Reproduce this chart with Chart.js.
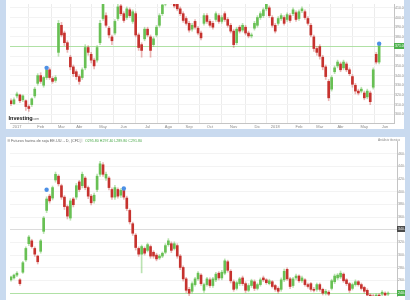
<!DOCTYPE html>
<html>
<head>
<meta charset="utf-8">
<script src="https://cdn.jsdelivr.net/npm/chart.js@4.4.0/dist/chart.umd.min.js"></script>
<style>
  html, body { margin: 0; padding: 0; }
  body { width: 410px; height: 300px; overflow: hidden; background: #c9daef; position: relative; }
  .panel { position: absolute; background: #fff; }
  #topPanel { left: 6px; top: 0; width: 398px; height: 129px; }
  #bottomPanel { left: 6px; top: 137px; width: 399px; height: 163px; }
  canvas { display: block; }
</style>
</head>
<body>
<div class="panel" id="topPanel"><canvas id="top" width="398" height="129"></canvas></div>
<div class="panel" id="bottomPanel"><canvas id="bottom" width="399" height="163"></canvas></div>
<script>
// ---- upper chart (weekly-ish view) ----
const topOpen  = [314,311,319,320,315,314,308,310,319,332,340,330,338,346,337,335,364,392,384,374,359,349,344,339,338,348,369,362,356,356,374,399,402,389,380,384,399,412,404,400,408,396,404,382,372,378,388,380,372,382,392,404,414,417,420,416,414,409,404,399,394,388,396,389,384,394,402,396,394,398,402,396,404,398,392,386,374,390,387,390,384,381,389,392,400,402,409,410,400,392,394,399,400,398,402,404,405,399,407,406,399,392,380,368,370,359,349,334,326,344,350,352,348,352,346,339,330,324,324,322,318,322,328,362,354];
const topClose = [311,315,321,314,319,308,306,316,326,340,334,338,346,338,334,338,394,382,374,367,349,342,339,334,346,369,364,356,350,369,394,414,392,382,376,396,411,404,397,409,402,406,382,369,366,388,382,366,378,390,402,413,419,422,416,412,409,404,397,394,387,392,390,384,379,402,396,392,390,404,396,400,398,392,386,372,388,386,392,384,381,382,394,400,404,408,414,402,392,386,399,402,394,403,397,408,398,406,409,400,394,382,368,364,360,349,339,317,338,348,354,346,354,346,342,331,324,322,326,317,324,313,346,354,371];
const topHigh  = [316,317,323,321,320,315,310,317,328,342,343,339,349,348,339,340,397,395,386,376,361,351,346,341,348,372,371,364,358,371,397,418,405,391,382,398,414,415,406,411,410,408,406,384,374,390,390,382,380,392,404,416,422,425,423,418,416,411,406,401,396,394,398,391,386,404,404,398,396,406,404,402,406,400,394,388,390,392,394,392,386,384,396,402,406,410,417,412,402,394,401,404,402,405,404,410,407,408,411,408,401,394,382,370,372,361,351,336,340,350,356,354,356,354,348,341,332,326,328,324,326,324,348,364,374];
const topLow   = [309,310,317,312,313,304,303,308,317,330,332,328,336,336,332,333,360,380,371,364,346,339,336,331,336,346,361,353,347,354,372,397,390,379,372,382,397,402,395,398,400,394,380,366,359,376,380,359,370,380,390,402,412,415,414,410,407,402,395,392,385,386,388,382,377,392,394,390,388,396,394,394,396,390,384,369,372,384,385,382,379,379,387,390,398,400,407,400,390,384,392,397,392,396,395,402,396,397,405,398,392,380,365,361,357,346,336,314,324,342,348,344,346,344,340,328,321,320,322,315,316,310,326,352,352];
const topMonthPos    = [2,10,17,23,31,38,46,53,60,67,75,83,89,97,104,111,119,126];
const topMonthLabels = ['2017','Feb','Mar','Abr','May','Jun','Jul','Ago','Sep','Oct','Nov','Dic','2018','Feb','Mar','Abr','May','Jun'];
const topPriceTicks  = [300,310,320,330,340,350,360,370,380,390,400,410];
const topEventIdx    = [12,124];
const topEventPrice  = [348,373];

// ---- lower chart ----
const botOpen  = [261,264,268.5,261,273,292.5,318,322.5,310.5,298.5,306,337.5,370.5,393,390,418.5,424.5,409.5,391.5,376.5,358.5,388.5,391.5,415.5,409.5,421.5,406.5,393,385.5,403.5,427.5,442.5,421.5,421.5,403.5,391.5,403.5,394.5,402,390,370.5,349.5,331.5,310.5,301.5,310.5,307.5,313.5,304.5,300,295.5,298.5,304.5,316.5,318,310.5,315,298.5,280.5,262.5,246,243,253.5,262.5,268.5,244.5,253.5,261,252,261,271.5,264,271.5,289.5,274.5,258,247.5,255,264,255,244.5,252,258,247.5,253.5,264,261,255,258,252,247.5,246,261,277.5,262.5,252,264,267,259.5,261,253.5,255,246,246,253.5,246,240,241.5,247.5,258,264,265.5,270,261,255,247.5,253.5,258,253.5,249,244.5,237,235.5,232.5,237,238.5,240,238.5];
const botClose = [265.5,268.5,271.5,255,288,310.5,328.5,313.5,301.5,289.5,322.5,358.5,388.5,385.5,406.5,427.5,412.5,391.5,376.5,361.5,385.5,379.5,409.5,403.5,427.5,406.5,393,382.5,394.5,424.5,444,427.5,427.5,406.5,391.5,406.5,393,402,391.5,373.5,352.5,334.5,312,301.5,313.5,303,316.5,298.5,298.5,294,298.5,303,315,322.5,307.5,318,298.5,280.5,262.5,244.5,240,255,262.5,271.5,255,253.5,262.5,252,262.5,270,264,273,291,276,259.5,246,256.5,262.5,255,244.5,252,259.5,247.5,253.5,261,261,256.5,259.5,250.5,246,243,261,274.5,262.5,250.5,262.5,267,259.5,264,253.5,250.5,246,244.5,253.5,246,240,243,238.5,259.5,267,268.5,271.5,259.5,255,244.5,253.5,258,253.5,247.5,243,237,232.5,231,237,234,241.5,237,240];
const botHigh  = [267,270,274,263,290,313,331,325,313,300,325,361,392,396,409,431,427,412,394,379,389,391,413,418,431,424,409,396,398,428,448,446,431,424,406,410,406,405,405,393,373,352,334,313,316,313,319,316,307,303,301,305,318,326,321,321,318,301,283,265,249,258,265,274,271,256,265,264,265,273,274,276,294,292,277,261,259,265,267,258,255,262,261,256,264,267,263,262,260,254,250,264,278,280,265,265,270,269,267,263,256,257,249,256,256,248,246,244,262,270,271,275,272,263,257,256,261,260,256,251,247,239,238,239,239,244,242,242];
const botLow   = [259,262,266,252,271,290,315,311,298,286,303,334,367,382,387,415,409,388,372,357,355,376,388,400,406,403,389,379,382,400,424,424,418,403,388,388,390,391,388,370,349,331,308,298,272,300,305,295,295,291,293,296,302,314,304,308,295,277,259,241,236,240,251,260,252,241,251,249,249,258,261,261,269,273,256,243,245,252,252,241,242,249,244,245,251,258,254,253,248,243,240,243,258,260,247,249,261,257,257,251,248,243,242,243,243,237,237,236,245,255,261,263,257,252,241,245,251,251,245,240,234,230,229,230,232,236,235,236];
const botPriceTicks = [240,250,260,270,280,290,300,310,320,330,340,350,360,370,380,390,400,410,420,430,440,450,460,470];
const botGridPos    = [8,23,38,53,69,84,99,114];
const botEventIdx   = [12,38];
const botEventPrice = [403,405];
const crosshairPrice = 340.5;

const UP = 'rgb(104,192,84)', DOWN = 'rgb(198,50,46)';
const UP_WICK = 'rgba(104,192,84,0.45)', DOWN_WICK = 'rgba(198,50,46,0.35)';
const FONT = "'Liberation Sans', Arial, sans-serif";

// horizontal price lines + right-edge price boxes
const priceTags = {
  id: 'priceTags',
  beforeDatasetsDraw(chart, args, opts) {
    const {ctx, chartArea: a, scales: {y}} = chart;
    (opts.tags || []).forEach(t => {
      if (!t.line) return;
      const py = Math.round(y.getPixelForValue(t.value)) + 0.5;
      ctx.save();
      ctx.strokeStyle = t.line; ctx.lineWidth = 1;
      ctx.beginPath(); ctx.moveTo(a.left, py); ctx.lineTo(a.right, py); ctx.stroke();
      ctx.restore();
    });
  },
  afterDraw(chart, args, opts) {
    const {ctx, chartArea: a, scales: {y}} = chart;
    (opts.tags || []).forEach(t => {
      const py = Math.round(y.getPixelForValue(t.value));
      ctx.save();
      ctx.fillStyle = t.bg;
      ctx.fillRect(a.right, py - 3, chart.width - a.right, 6);
      ctx.fillStyle = '#fff'; ctx.font = '3.5px ' + FONT; ctx.textBaseline = 'middle';
      ctx.fillText(t.value.toFixed(2), a.right + 1, py);
      ctx.restore();
    });
    (opts.texts || []).forEach(t => {
      ctx.save();
      ctx.fillStyle = t.color; ctx.font = t.font; ctx.textBaseline = 'middle';
      if (t.box) { ctx.fillRect(t.x, t.y - t.box / 2, t.box, t.box); }
      else ctx.fillText(t.text, t.x, t.y);
      ctx.restore();
    });
  }
};

function candleChart(id, o, h, l, c, cfg) {
  const idx = c.map((_, i) => i);
  const up = c.map((v, i) => v >= o[i]);
  return new Chart(document.getElementById(id), {
    type: 'bar',
    data: {
      datasets: [
        { label: 'cuerpo', data: idx.map(i => ({x: i, y: [o[i], c[i]]})),
          backgroundColor: up.map(u => u ? UP : DOWN), barThickness: 2, grouped: false, minBarLength: 1, order: 1 },
        { label: 'mecha', data: idx.map(i => ({x: i, y: [l[i], h[i]]})),
          backgroundColor: up.map(u => u ? UP_WICK : DOWN_WICK), barThickness: 1, grouped: false, order: 2 },
        { type: 'line', label: 'eventos', data: cfg.eventIdx.map((v, i) => ({x: v, y: cfg.eventPrice[i]})),
          showLine: false, pointRadius: 2.2, pointBackgroundColor: '#4d90e6', pointBorderWidth: 0, order: 0 }
      ]
    },
    options: {
      responsive: false,
      animation: false,
      layout: { padding: 0 },
      plugins: { legend: { display: false }, tooltip: { enabled: false }, priceTags: { tags: cfg.tags, texts: cfg.texts } },
      scales: {
        x: {
          type: 'linear', min: -1 / 3, max: cfg.xMax, offset: false,
          afterBuildTicks: s => { s.ticks = cfg.xTicks.map(v => ({value: v})); },
          afterFit: s => { s.height = cfg.xHeight; },
          ticks: { display: cfg.xLabels.length > 0, autoSkip: false, maxRotation: 0, padding: 1,
                   font: { size: 4, family: FONT }, color: '#8a8a8a', callback: (v, i) => cfg.xLabels[i] },
          grid: { color: '#ececec', drawTicks: false },
          border: { display: cfg.xLabels.length > 0, color: '#c4c4c4' }
        },
        y: {
          position: 'right', min: cfg.yMin, max: cfg.yMax,
          afterBuildTicks: s => { s.ticks = cfg.yTicks.map(v => ({value: v})); },
          afterFit: s => { s.width = cfg.yWidth; },
          ticks: { padding: 1, font: { size: 3.5, family: FONT }, color: '#8a8a8a', callback: v => v.toFixed(2) },
          grid: { color: '#f3f3f3', drawTicks: false },
          border: { display: true, color: '#c4c4c4' }
        }
      }
    },
    plugins: [priceTags]
  });
}

candleChart('top', topOpen, topHigh, topLow, topClose, {
  xMax: 129, xTicks: topMonthPos, xLabels: topMonthLabels, xHeight: 6,
  yMin: 291, yMax: 414, yTicks: topPriceTicks, yWidth: 10,
  eventIdx: topEventIdx, eventPrice: topEventPrice,
  tags: [{ value: topClose[topClose.length - 1], line: 'rgba(120,210,100,0.55)', bg: '#4cb04c' }],
  texts: [
    { text: 'Investing', x: 2.5, y: 118.5, color: '#111', font: 'bold 5.5px ' + FONT },
    { text: '.com', x: 25.5, y: 119, color: '#666', font: '3.5px ' + FONT }
  ]
});

candleChart('bottom', botOpen, botHigh, botLow, botClose, {
  xMax: 130, xTicks: botGridPos, xLabels: [], xHeight: 0,
  yMin: 235.5, yMax: 480, yTicks: botPriceTicks, yWidth: 8,
  eventIdx: botEventIdx, eventPrice: botEventPrice,
  tags: [
    { value: crosshairPrice, line: '#dcdcdc', bg: '#4a4a4a' },
    { value: botClose[botClose.length - 1], line: 'rgba(120,210,100,0.55)', bg: '#4cb04c' }
  ],
  texts: [
    { box: 2.5, x: 1.5, y: 3.5, color: '#c8c8c8', font: '4px ' + FONT },
    { text: 'Futuros harina de soja EE.UU. - D, (CFD)', x: 5, y: 3.6, color: '#666', font: '3.8px ' + FONT },
    { box: 3.5, x: 73, y: 3.5, color: '#e4e4e4', font: '4px ' + FONT },
    { text: 'O295.80 H297.40 L289.80 C291.80', x: 79, y: 3.6, color: '#4aa84a', font: '3.6px ' + FONT },
    { text: 'Análisis técnico', x: 372, y: 3.2, color: '#888', font: '3.2px ' + FONT }
  ]
});
</script>
</body>
</html>
